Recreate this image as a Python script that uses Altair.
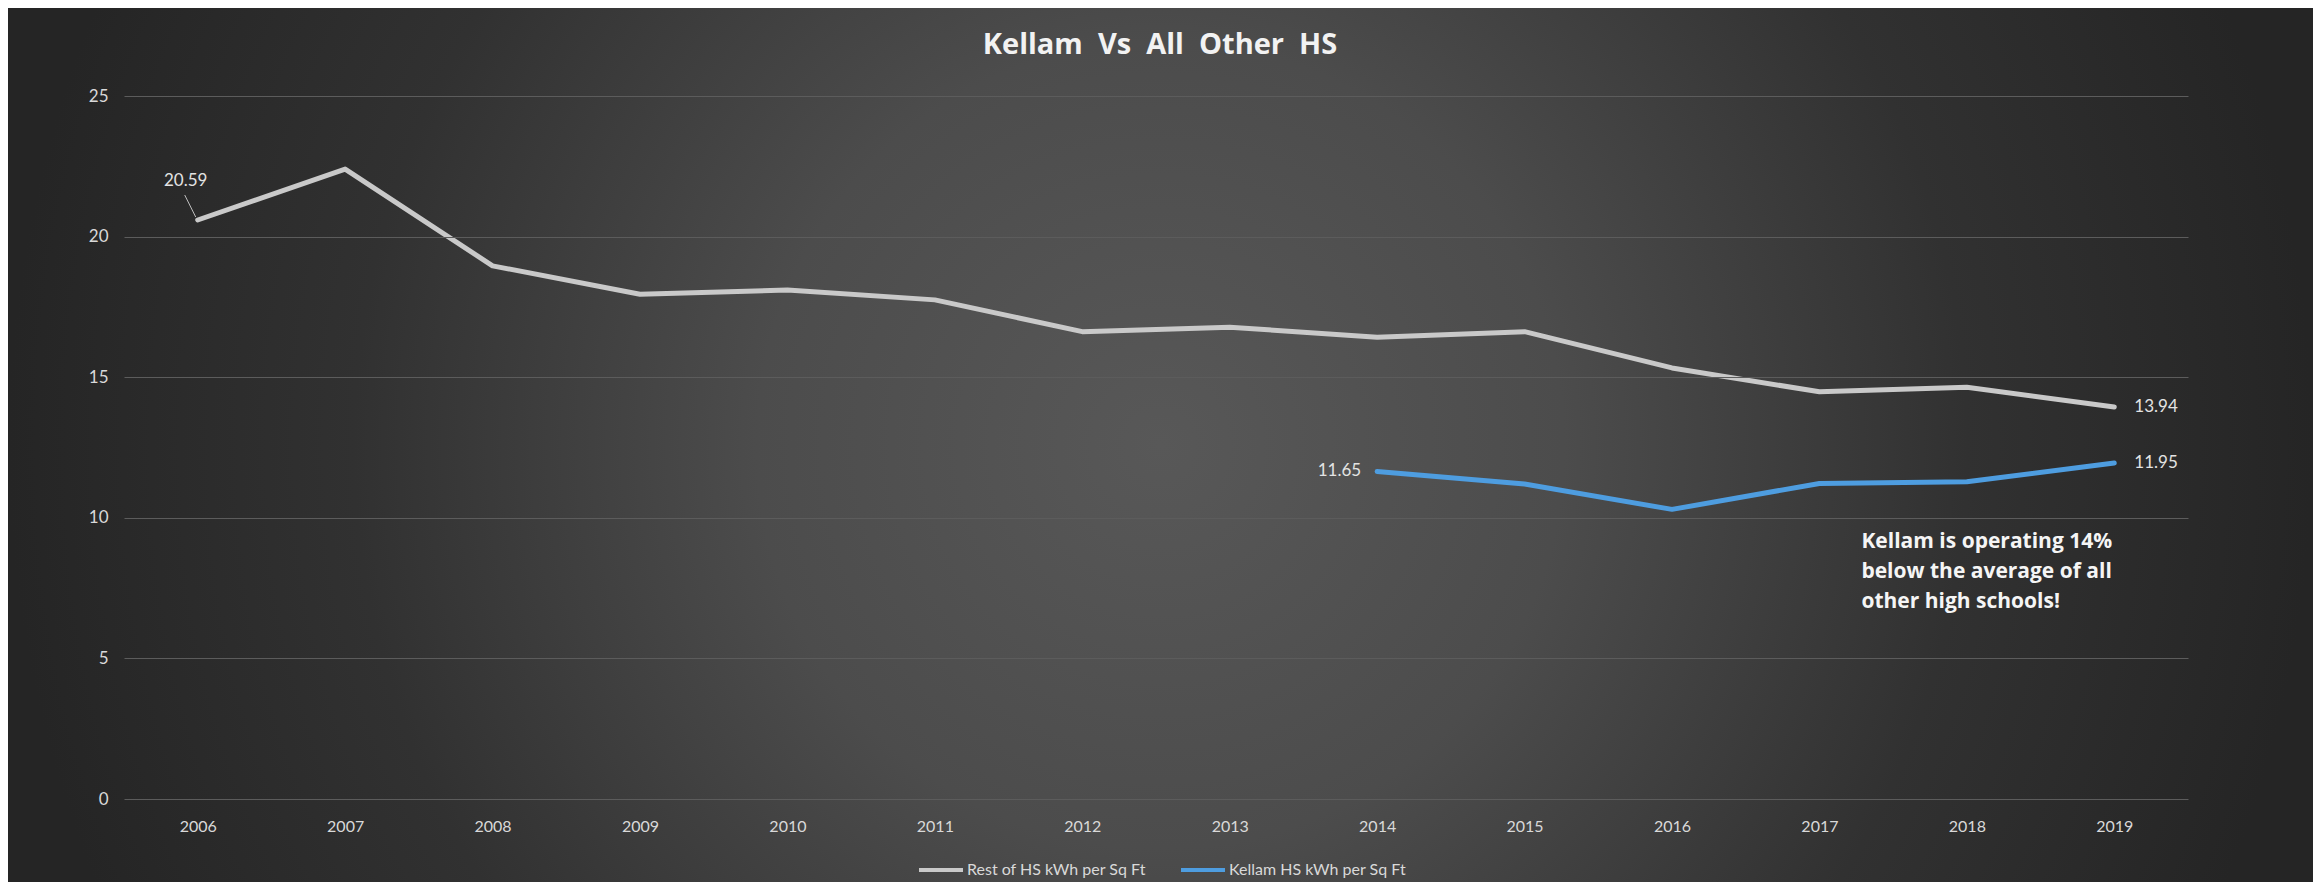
import altair as alt
import pandas as pd

# ---------------- data ----------------
years = ["2006", "2007", "2008", "2009", "2010", "2011", "2012",
         "2013", "2014", "2015", "2016", "2017", "2018", "2019"]
rest_values = [20.59, 22.40, 18.96, 17.95, 18.10, 17.75, 16.62,
               16.78, 16.42, 16.62, 15.33, 14.48, 14.64, 13.94]
kellam_years = ["2014", "2015", "2016", "2017", "2018", "2019"]
kellam_values = [11.65, 11.20, 10.30, 11.22, 11.28, 11.95]
series_names = ["Rest of HS kWh per Sq Ft", "Kellam HS kWh per Sq Ft"]
series_colors = ["#c9c9c9", "#4e9de0"]
y_ticks = [0, 5, 10, 15, 20, 25]
title_text = "Kellam\u00a0 Vs\u00a0 All\u00a0 Other\u00a0 HS"
note_year = "2017"
note_value = 8.92
note_lines = ["Kellam is operating 14%", "below the average of all", "other high schools!"]

# ---------------- layout ----------------
W, H = 2064, 703
PAD = {"left": 116, "top": 88, "right": 125, "bottom": 83}
FONT = "Lato"
BOLD_FONT = "Open Sans"

rest_df = pd.DataFrame({"year": years, "value": rest_values, "series": series_names[0]})
kellam_df = pd.DataFrame({"year": kellam_years, "value": kellam_values, "series": series_names[1]})
df = pd.concat([rest_df, kellam_df], ignore_index=True)

labels_df = pd.DataFrame({
    "year": [years[0], years[-1], kellam_years[0], kellam_years[-1]],
    "value": [rest_values[0], rest_values[-1], kellam_values[0], kellam_values[-1]],
    "pos": ["upper", "right", "left", "right"],
})
note_df = pd.DataFrame({"year": [note_year], "value": [note_value]})
title_df = pd.DataFrame({"t": [title_text]})

x_enc = alt.X(
    "year:O",
    scale=alt.Scale(type="point", domain=years, padding=0.5),
    axis=alt.Axis(title=None, grid=False, domain=False, ticks=False, labelAngle=0,
                  labelFont=FONT, labelFontSize=16, labelColor="#d9d9d9",
                  labelPadding=19, zindex=1),
)
y_enc = alt.Y(
    "value:Q",
    scale=alt.Scale(domain=[0, 25], nice=False, zero=True),
    axis=alt.Axis(title=None, values=y_ticks, grid=True, gridColor="#5c5c5c",
                  gridWidth=1, domain=False, ticks=False, labelFont=FONT,
                  labelFontSize=17, labelColor="#d9d9d9", labelPadding=16, zindex=1),
)

# background gradient panel (decoration only)
bg = alt.Chart(pd.DataFrame({"k": [0]})).mark_rect(
    fill=alt.RadialGradient(
        gradient="radial",
        stops=[alt.GradientStop(color="#585858", offset=0),
               alt.GradientStop(color="#4c4c4c", offset=0.35),
               alt.GradientStop(color="#313131", offset=0.7),
               alt.GradientStop(color="#252525", offset=1)],
        x1=0.5, y1=0.5, x2=0.5, y2=0.5, r1=0, r2=0.5,
    )
).encode(
    x=alt.value(-PAD["left"]), x2=alt.value(W + PAD["right"]),
    y=alt.value(-PAD["top"]), y2=alt.value(H + PAD["bottom"]),
)

lines = alt.Chart(df).mark_line(strokeWidth=5, strokeJoin="round", strokeCap="round").encode(
    x=x_enc,
    y=y_enc,
    color=alt.Color(
        "series:N",
        scale=alt.Scale(domain=series_names, range=series_colors),
        legend=alt.Legend(title=None, orient="none", legendX=793, legendY=750,
                          direction="horizontal", symbolType="stroke", symbolSize=1936,
                          symbolStrokeWidth=4, labelFont=FONT, labelFontSize=16,
                          labelColor="#d9d9d9", columnPadding=26, labelOffset=2,
                          labelLimit=400),
    ),
    detail="series:N",
)

lab_base = alt.Chart(labels_df).encode(
    x="year:O", y="value:Q", text=alt.Text("value:Q", format=".2f")
)
lab_style = dict(font=FONT, fontSize=17, color="#e3e3e3")
lab_upper = lab_base.transform_filter(alt.datum.pos == "upper").mark_text(
    align="center", baseline="middle", dx=-12, dy=-39, **lab_style)
lab_right = lab_base.transform_filter(alt.datum.pos == "right").mark_text(
    align="left", baseline="middle", dx=20, dy=0, **lab_style)
lab_left = lab_base.transform_filter(alt.datum.pos == "left").mark_text(
    align="right", baseline="middle", dx=-16, dy=0, **lab_style)

leader = alt.Chart(labels_df).transform_filter(alt.datum.pos == "upper").mark_rule(
    color="#bfbfbf", strokeWidth=1, xOffset=-13, yOffset=-25, x2Offset=-2, y2Offset=-3,
).encode(x="year:O", x2="year:O", y="value:Q", y2="value:Q")

note = alt.Chart(note_df).mark_text(
    text=note_lines, align="left", baseline="alphabetic", dx=42, lineHeight=30,
    font=BOLD_FONT, fontSize=21, fontWeight="bold", color="#f5f5f5",
).encode(x="year:O", y="value:Q")

title = alt.Chart(title_df).mark_text(
    font=BOLD_FONT, fontSize=29, fontWeight="bold", color="#f2f2f2", align="center",
    baseline="alphabetic",
).encode(x=alt.value(1036), y=alt.value(-42), text="t:N")

chart = alt.layer(bg, lines, leader, lab_upper, lab_right, lab_left, note, title).properties(
    width=W, height=H,
    autosize=alt.AutoSizeParams(type="none"),
    padding=PAD,
    background="#2a2a2a",
).configure_view(stroke=None)

chart.save("out.html", embed_options={"renderer": "svg", "actions": False})
